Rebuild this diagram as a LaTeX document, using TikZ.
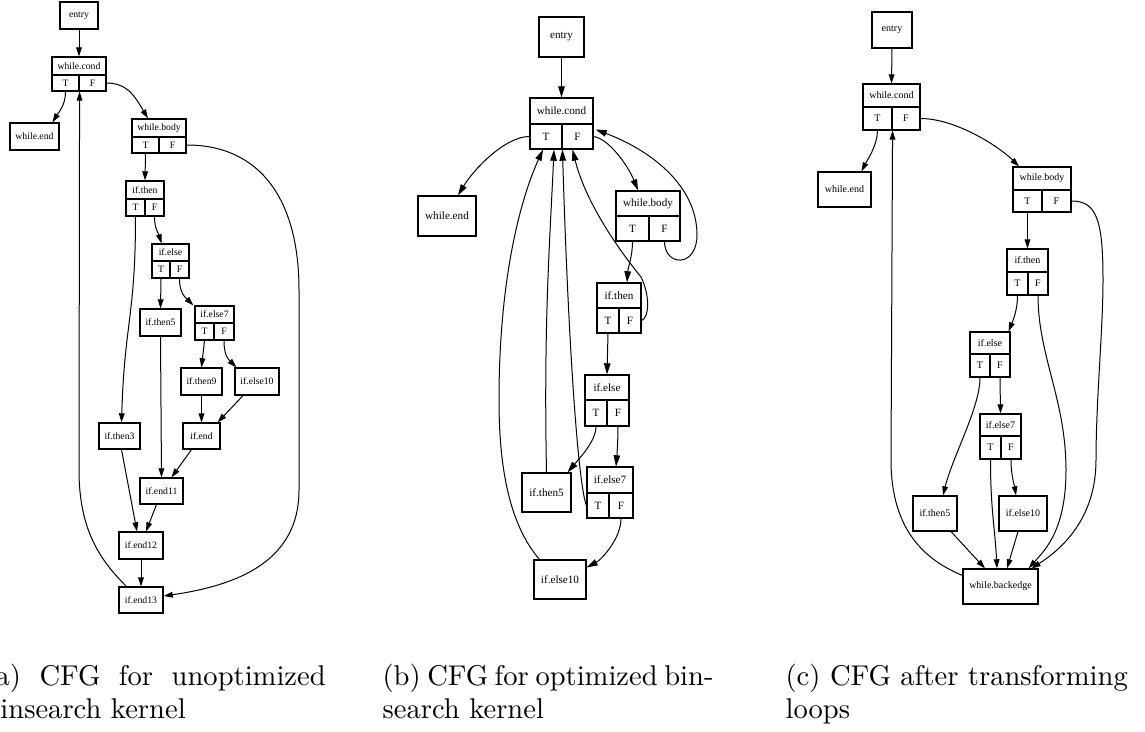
\documentclass[tikz,border=0pt]{standalone}
\usepackage{fontspec}
\newfontfamily\cfgfont{Liberation Serif}
\usetikzlibrary{arrows.meta,calc}

\tikzset{
  cell/.style={draw, line width=0.4pt, inner sep=0pt, font=\cfgfont\cellsize},
  edgeA/.style={line width=0.35pt, -{Triangle[length=3.2pt,width=2pt]}},
  edgeB/.style={line width=0.35pt, -{Triangle[length=3.9pt,width=2.3pt]}},
  edgeC/.style={line width=0.35pt, -{Triangle[length=3.2pt,width=2pt]}},
  captext/.style={inner sep=0pt, anchor=base west, font=\fontsize{10}{12}\selectfont},
}

% plain block: name, x1, y1, x2, y2, label
\newcommand\bx[6]{%
  \node[cell, minimum width={(#4-#2)*0.35pt}, minimum height={(#5-#3)*0.35pt}]
    (#1) at ({(#2+#4)/2},{(#3+#5)/2}) {#6};}
% branch block with T/F ports: name, x1, y1, x2, ymid, y2, xmid, label
\newcommand\rec[8]{%
  \bx{#1}{#2}{#3}{#4}{#5}{#8}
  \bx{#1T}{#2}{#5}{#7}{#6}{T}
  \bx{#1F}{#7}{#5}{#4}{#6}{F}}

\begin{document}
\begin{tikzpicture}[x=0.35pt, y=-0.35pt]
\useasboundingbox (0,0) rectangle (1145,731);
\clip (0,0) rectangle (1145,731);

% ---------------- (a) unoptimized binsearch ----------------
\begin{scope}
\def\cellsize{\fontsize{3.4}{4}\selectfont}
\bx{a-entry}{60}{2}{98}{29}{entry}
\rec{a-wc}{52}{57}{106}{75}{91}{79}{while.cond}
\bx{a-we}{10}{123}{59}{150}{while.end}
\rec{a-wb}{132}{119}{186}{137}{153}{159}{while.body}
\rec{a-it}{126}{181}{164}{199}{216}{145}{if.then}
\rec{a-ie}{152}{244}{189}{261}{278}{170}{if.else}
\bx{a-t5}{140}{309}{181}{336}{if.then5}
\rec{a-e7}{195}{306}{234}{323}{340}{214}{if.else7}
\bx{a-t9}{181}{368}{222}{395}{if.then9}
\bx{a-e10}{235}{368}{279}{395}{if.else10}
\bx{a-t3}{99}{423}{140}{449}{if.then3}
\bx{a-end}{183}{423}{220}{449}{if.end}
\bx{a-end11}{140}{478}{183}{504}{if.end11}
\bx{a-end12}{119}{532}{163}{559}{if.end12}
\bx{a-end13}{119}{587}{163}{613}{if.end13}

\draw[edgeA] (a-entry.south) -- (a-wc.north);
\draw[edgeA] (a-wcT.south) .. controls +(0,14) and +(6,-10) .. ($(a-we.north)+(18,0)$);
\draw[edgeA] (a-wcF.east) .. controls +(22,0) and +(-12,-20) .. ($(a-wb.north)+(-11,0)$);
\draw[edgeA] (a-wbT.south) -- (a-it.north);
\draw[edgeA] (a-wbF.east) .. controls +(74,0) and (299,200) .. (299,290) -- (299,490)
  .. controls (299,560) and (240,585) .. ($(a-end13.east)+(0,-4)$);
\draw[edgeA] (a-itT.south) .. controls +(0,100) and +(3,-100) .. ($(a-t3.north)+(2,0)$);
\draw[edgeA] (a-itF.south) .. controls +(0,12) and +(-3,-10) .. ($(a-ie.north)+(-9,0)$);
\draw[edgeA] (a-ieT.south) -- (a-t5.north);
\draw[edgeA] (a-ieF.south) .. controls +(0,15) and +(-8,-8) .. ($(a-e7.north west)+(-1,0)$);
\draw[edgeA] (a-e7T.south) -- (a-t9.north);
\draw[edgeA] (a-e7F.south) .. controls +(0,15) and +(-8,-8) .. ($(a-e10.north west)+(2,0)$);
\draw[edgeA] (a-t9.south) -- (a-end.north);
\draw[edgeA] ($(a-e10.south)+(-14,0)$) -- ($(a-end.north east)+(-3,0)$);
\draw[edgeA] ($(a-end.south)+(-10,0)$) -- ($(a-end11.north)+(10,0)$);
\draw[edgeA] (a-t5.south) -- (a-end11.north);
\draw[edgeA] ($(a-t3.south)+(2,0)$) -- ($(a-end12.north)+(-4,0)$);
\draw[edgeA] ($(a-end11.south)+(-5,0)$) -- ($(a-end12.north)+(5,0)$);
\draw[edgeA] (a-end12.south) -- (a-end13.north);
\draw[edgeA] ($(a-end13.north west)+(8,0)$) .. controls (100,560) and (79,530) .. (79,470)
  -- (a-wcT.south east);
\end{scope}

% ---------------- (b) optimized binsearch ----------------
\begin{scope}
\def\cellsize{\fontsize{3.9}{4.5}\selectfont}
\bx{b-entry}{539}{17}{584}{57}{entry}
\rec{b-wc}{530}{98}{593}{124}{149}{562}{while.cond}
\bx{b-we}{418}{196}{476}{236}{while.end}
\rec{b-wb}{616}{191}{680}{216}{241}{649}{while.body}
\rec{b-it}{597}{283}{641}{308}{333}{619}{if.then}
\rec{b-ie}{585}{375}{629}{400}{426}{607}{if.else}
\bx{b-t5}{522}{473}{571}{512}{if.then5}
\rec{b-e7}{587}{467}{633}{493}{518}{609}{if.else7}
\bx{b-e10}{534}{560}{586}{599}{if.else10}

\draw[edgeB] (b-entry.south) -- (b-wc.north);
\draw[edgeB] (b-wcT.west) .. controls +(-25,0) and +(15,-25) .. ($(b-we.north)+(11,0)$);
\draw[edgeB] (b-wcF.east) .. controls +(15,2) and +(-10,-25) .. ($(b-wb.north)+(-10,0)$);
\draw[edgeB] (b-wbF.south) .. controls +(0,25) and (697,268) .. (697,235)
  .. controls (697,185) and (650,150) .. ($(b-wcF.east)+(2,-7)$);
\draw[edgeB] (b-wbT.south) .. controls +(0,15) and +(1,-15) .. ($(b-it.north)+(8,0)$);
\draw[edgeB] (b-itF.east) .. controls +(8,-3) and (650,295) .. (641,277)
  .. controls (615,245) and (585,200) .. ($(b-wcF.south)+(-5,0)$);
\draw[edgeB] (b-itT.south) -- (b-ie.north);
\draw[edgeB] (b-ieT.south) .. controls +(0,15) and +(10,-12) .. ($(b-t5.north east)+(-4,0)$);
\draw[edgeB] (b-ieF.south) .. controls +(0,12) and +(1,-12) .. ($(b-e7.north)+(6,0)$);
\draw[edgeB] (b-t5.north) .. controls +(-3,-150) and +(-4,90) .. ($(b-wcT.south)+(8,0)$);
\draw[edgeB] (b-e7T.west) .. controls +(-8,-20) and +(6,200) .. ($(b-wcF.south west)+(1,0)$);
\draw[edgeB] ($(b-e10.north west)+(6,0)$) .. controls (510,525) and (499,470) .. (499,400)
  .. controls (499,280) and (520,200) .. ($(b-wcT.south)+(-3,0)$);
\draw[edgeB] (b-e7F.south) .. controls +(0,20) and +(15,-8) .. ($(b-e10.east)+(0,-12)$);
\end{scope}

% ---------------- (c) after loop transformation ----------------
\begin{scope}
\def\cellsize{\fontsize{3.5}{4}\selectfont}
\bx{c-entry}{872}{12}{912}{48}{entry}
\rec{c-wc}{863}{84}{920}{107}{130}{892}{while.cond}
\bx{c-we}{818}{172}{871}{207}{while.end}
\rec{c-wb}{1013}{167}{1071}{190}{212}{1042}{while.body}
\rec{c-it}{1007}{249}{1048}{272}{295}{1028}{if.then}
\rec{c-ie}{970}{332}{1010}{354}{377}{990}{if.else}
\rec{c-e7}{980}{414}{1021}{436}{459}{1001}{if.else7}
\bx{c-t5}{913}{496}{957}{531}{if.then5}
\bx{c-e10}{999}{496}{1047}{531}{if.else10}
\bx{c-wbe}{963}{569}{1038}{604}{while.backedge}

\draw[edgeC] (c-entry.south) -- (c-wc.north);
\draw[edgeC] (c-wcT.south) .. controls +(0,15) and +(5,-10) .. ($(c-we.north)+(17,0)$);
\draw[edgeC] (c-wcF.east) .. controls +(35,0) and +(-20,-20) .. ($(c-wb.north)+(-23,0)$);
\draw[edgeC] (c-wbT.south) -- (c-it.north);
\draw[edgeC] (c-wbF.east) .. controls +(25,0) and (1103,220) .. (1103,280)
  .. controls (1103,330) and (1096,400) .. (1096,460)
  .. controls (1096,520) and (1060,550) .. ($(c-wbe.north east)+(-7,0)$);
\draw[edgeC] (c-itT.south) .. controls +(0,15) and +(4,-10) .. ($(c-ie.north east)+(-2,0)$);
\draw[edgeC] (c-itF.south) .. controls +(0,60) and (1066,400) .. (1066,470)
  .. controls (1066,530) and (1045,550) .. ($(c-wbe.north east)+(-10,0)$);
\draw[edgeC] (c-ieT.south) .. controls +(0,30) and +(10,-40) .. ($(c-t5.north)+(8,0)$);
\draw[edgeC] (c-ieF.south) -- (c-e7.north);
\draw[edgeC] (c-e7T.south) .. controls +(0,50) and +(-2,-40) .. ($(c-wbe.north)+(-3.5,0)$);
\draw[edgeC] (c-e7F.south) .. controls +(0,15) and +(-2,-12) .. ($(c-e10.north)+(-7,0)$);
\draw[edgeC] ($(c-t5.south)+(16,0)$) -- ($(c-wbe.north)+(-15.5,0)$);
\draw[edgeC] ($(c-e10.south)+(-5,0)$) -- ($(c-wbe.north)+(6.5,0)$);
\draw[edgeC] ($(c-wbe.north west)+(0,7)$) .. controls (925,560) and (891,530) .. (891,460)
  -- (c-wcT.south east);
\end{scope}

% ---------------- captions ----------------
\node[captext] (capA1) at (-16,685) {\makebox[119.4pt][s]{(a) CFG for unoptimized}};
\node[captext] (capA2) at (-16,718) {binsearch kernel};
\node[captext] (capB1) at (382,685) {\makebox[115.85pt][s]{(b) CFG for optimized bin-}};
\node[captext] (capB2) at (382,718) {search kernel};
\node[captext] (capC1) at (785,685) {(c) CFG after transforming};
\node[captext] (capC2) at (785,718) {loops};
\end{tikzpicture}
\end{document}
